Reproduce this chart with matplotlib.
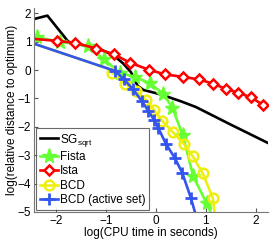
import matplotlib
matplotlib.use('Agg')
import matplotlib.pyplot as plt

plt.rcParams['font.family'] = ['Liberation Sans', 'DejaVu Sans']
plt.rcParams['mathtext.fontset'] = 'custom'
plt.rcParams['mathtext.rm'] = 'Liberation Sans'

# SG_sqrt
sg_x = [-2.45, -2.18, -1.76, -1.1, -0.85, -0.65, -0.5, -0.37, -0.25, 0.1, 0.5, 0.8, 1.5, 2.25]
sg_y = [1.8, 1.92, 1.0, 0.72, 0.52, 0.22, -0.08, -0.55, -0.7, -0.86, -1.1, -1.3, -1.92, -2.57]

# Fista
fista_x = [-2.39, -1.92, -1.37, -1.05, -0.72, -0.42, -0.12, 0.15, 0.33, 0.54, 0.75, 1.02, 1.12]
fista_y = [1.15, 1.0, 0.85, 0.38, -0.1, -0.24, -0.47, -0.84, -1.33, -2.3, -3.75, -4.7, -5.1]

# Ista
ista_x = [-2.45, -1.99, -1.62, -1.2, -0.85, -0.52, -0.14, 0.18, 0.54, 0.87, 1.15, 1.4, 1.65, 1.91, 2.16]
ista_y = [1.1, 1.03, 0.96, 0.76, 0.56, 0.26, 0.01, -0.15, -0.24, -0.33, -0.48, -0.66, -0.8, -0.96, -1.24]

# BCD
bcd_x = [-2.45, -1.0, -0.88, -0.62, -0.4, -0.2, -0.04, 0.12, 0.34, 0.56, 0.74, 0.94, 1.14, 1.18]
bcd_y = [0.93, 0.075, -0.1, -0.48, -0.75, -1.05, -1.4, -1.78, -2.19, -2.6, -3.04, -3.64, -4.5, -5.05]

# BCD (active set)
bcda_x = [-2.45, -0.82, -0.64, -0.46, -0.28, -0.15, -0.04, 0.05, 0.2, 0.38, 0.53, 0.7, 0.79]
bcda_y = [0.93, -0.03, -0.33, -0.68, -1.1, -1.45, -1.75, -2.05, -2.6, -3.1, -3.63, -4.5, -5.05]

fig = plt.figure(figsize=(2.74, 2.4), dpi=100)
ax = fig.add_axes([0.124, 0.117, 0.854, 0.851])

lw = 1.9
ax.plot(sg_x, sg_y, '-', color='black', linewidth=lw, label=r'SG$_{\mathrm{sqrt}}$')
ax.plot(fista_x, fista_y, '-', color='#66ff33', linewidth=lw, marker='*',
        markersize=11, markevery=list(range(len(fista_x) - 1)), label='Fista')
ax.plot(ista_x, ista_y, '-', color='red', linewidth=lw, marker='D', markersize=5.5,
        markerfacecolor='white', markeredgewidth=1.8,
        markevery=list(range(1, len(ista_x))), label='Ista')
ax.plot(bcd_x, bcd_y, '-', color='#eeee11', linewidth=lw, marker='o', markersize=7,
        markerfacecolor='none', markeredgewidth=1.8,
        markevery=list(range(2, len(bcd_x) - 1)), label='BCD')
ax.plot(bcda_x, bcda_y, '-', color='#3355ee', linewidth=lw, marker='+', markersize=8,
        markeredgewidth=2, markevery=list(range(1, len(bcda_x) - 1)),
        label='BCD (active set)')

ax.set_xlim(-2.45, 2.25)
ax.set_ylim(-5, 2.2)
ax.set_xticks([-2, -1, 0, 1, 2])
ax.set_yticks([-5, -4, -3, -2, -1, 0, 1, 2])
ax.tick_params(direction='in', length=3, labelsize=8.5, pad=2, color='#555555')
ax.spines['top'].set_visible(False)
ax.spines['right'].set_visible(False)
ax.spines['left'].set_color('#777777')
ax.spines['bottom'].set_color('#777777')

ax.set_xlabel('log(CPU time in seconds)', fontsize=8.5, labelpad=0)
ax.set_ylabel('log(relative distance to optimum)', fontsize=8.5, labelpad=0)

leg = ax.legend(loc='lower left', fontsize=8.5, frameon=True, fancybox=False,
                borderpad=0.3, labelspacing=0.2, handlelength=1.5,
                handletextpad=0.2, borderaxespad=0.2)
leg.get_frame().set_edgecolor('#444444')
leg.get_frame().set_linewidth(0.8)

fig.savefig('out.png', dpi=100)
